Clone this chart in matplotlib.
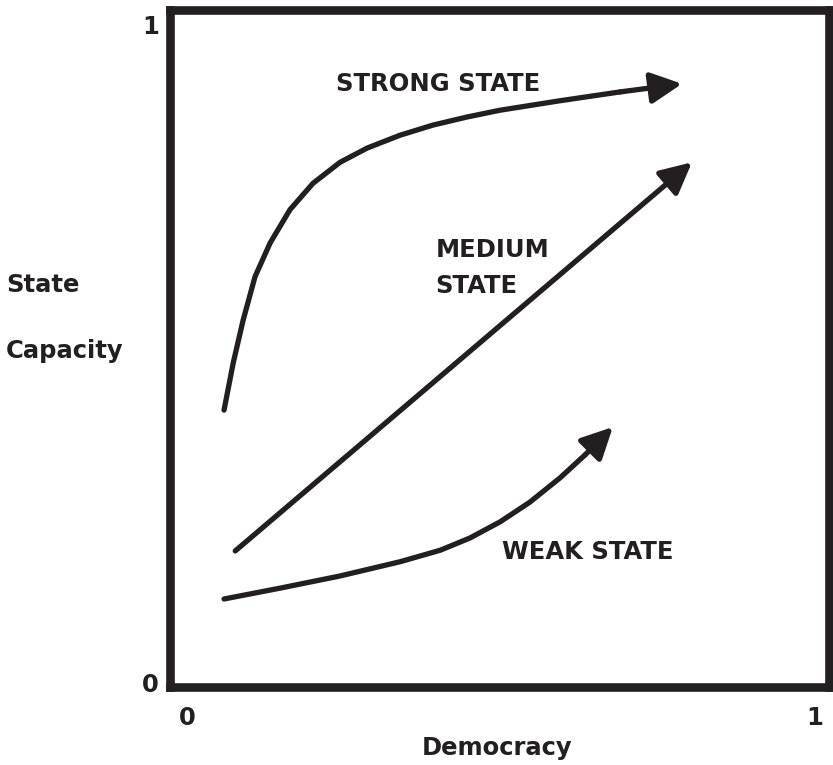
import matplotlib.pyplot as plt
import numpy as np

# curvas leidas a ojo de la figura original (ejes 0..1)
strong_x = [0.082, 0.096, 0.111, 0.129, 0.152, 0.182, 0.217, 0.258, 0.299, 0.349,
            0.399, 0.451, 0.501, 0.592, 0.683, 0.777]
strong_y = [0.409, 0.479, 0.542, 0.606, 0.656, 0.705, 0.744, 0.775, 0.796, 0.815,
            0.830, 0.842, 0.852, 0.866, 0.879, 0.891]

medium_x = [0.099, 0.792]
medium_y = [0.201, 0.775]

weak_x = [0.082, 0.167, 0.258, 0.349, 0.410, 0.455, 0.501, 0.546, 0.592, 0.630, 0.672]
weak_y = [0.130, 0.146, 0.164, 0.185, 0.202, 0.220, 0.244, 0.273, 0.309, 0.343, 0.384]

xtick_pos = [0.026, 0.979]
ytick_pos = [0.006, 0.978]
tick_labels = ['0', '1']

ink = '#231f20'

fig = plt.figure(figsize=(8.33, 7.65), dpi=100)
ax = fig.add_axes([170 / 833, 78 / 765, 659 / 833, 677 / 765])
ax.set_xlim(0, 1)
ax.set_ylim(0, 1)

for s in ax.spines.values():
    s.set_linewidth(6.2)
    s.set_color(ink)

lw = 3.8


def flecha(xs, ys):
    # linea + cabeza de flecha en el ultimo tramo
    ax.plot(xs[:-1], ys[:-1], color=ink, lw=lw, solid_capstyle='round',
            solid_joinstyle='round')
    ax.annotate('', xy=(xs[-1], ys[-1]), xytext=(xs[-2], ys[-2]),
                arrowprops=dict(arrowstyle='-|>,head_length=19,head_width=9.5',
                                mutation_scale=1, color=ink, lw=lw,
                                shrinkA=0, shrinkB=0))


flecha(strong_x, strong_y)
flecha(medium_x, medium_y)
flecha(weak_x, weak_y)

fs = 17.5
ax.text(0.252, 0.891, 'STRONG STATE', fontsize=fs, fontweight='bold', color=ink, va='center')
ax.text(0.403, 0.645, 'MEDIUM', fontsize=fs, fontweight='bold', color=ink, va='center')
ax.text(0.403, 0.593, 'STATE', fontsize=fs, fontweight='bold', color=ink, va='center')
ax.text(0.504, 0.200, 'WEAK STATE', fontsize=fs, fontweight='bold', color=ink, va='center')

ax.set_xticks(xtick_pos, tick_labels)
ax.set_yticks(ytick_pos, tick_labels)
ax.tick_params(length=0, labelsize=fs, labelcolor=ink)
ax.tick_params(axis='x', pad=14)
ax.tick_params(axis='y', pad=8)
for t in ax.get_xticklabels() + ax.get_yticklabels():
    t.set_fontweight('bold')

fig.text(422 / 833, 1 - 748 / 765, 'Democracy', fontsize=fs, fontweight='bold', color=ink, va='center')
fig.text(6 / 833, 1 - 285 / 765, 'State', fontsize=fs, fontweight='bold', color=ink, va='center')
fig.text(6 / 833, 1 - 351 / 765, 'Capacity', fontsize=fs, fontweight='bold', color=ink, va='center')

plt.savefig('out.png', dpi=100)
